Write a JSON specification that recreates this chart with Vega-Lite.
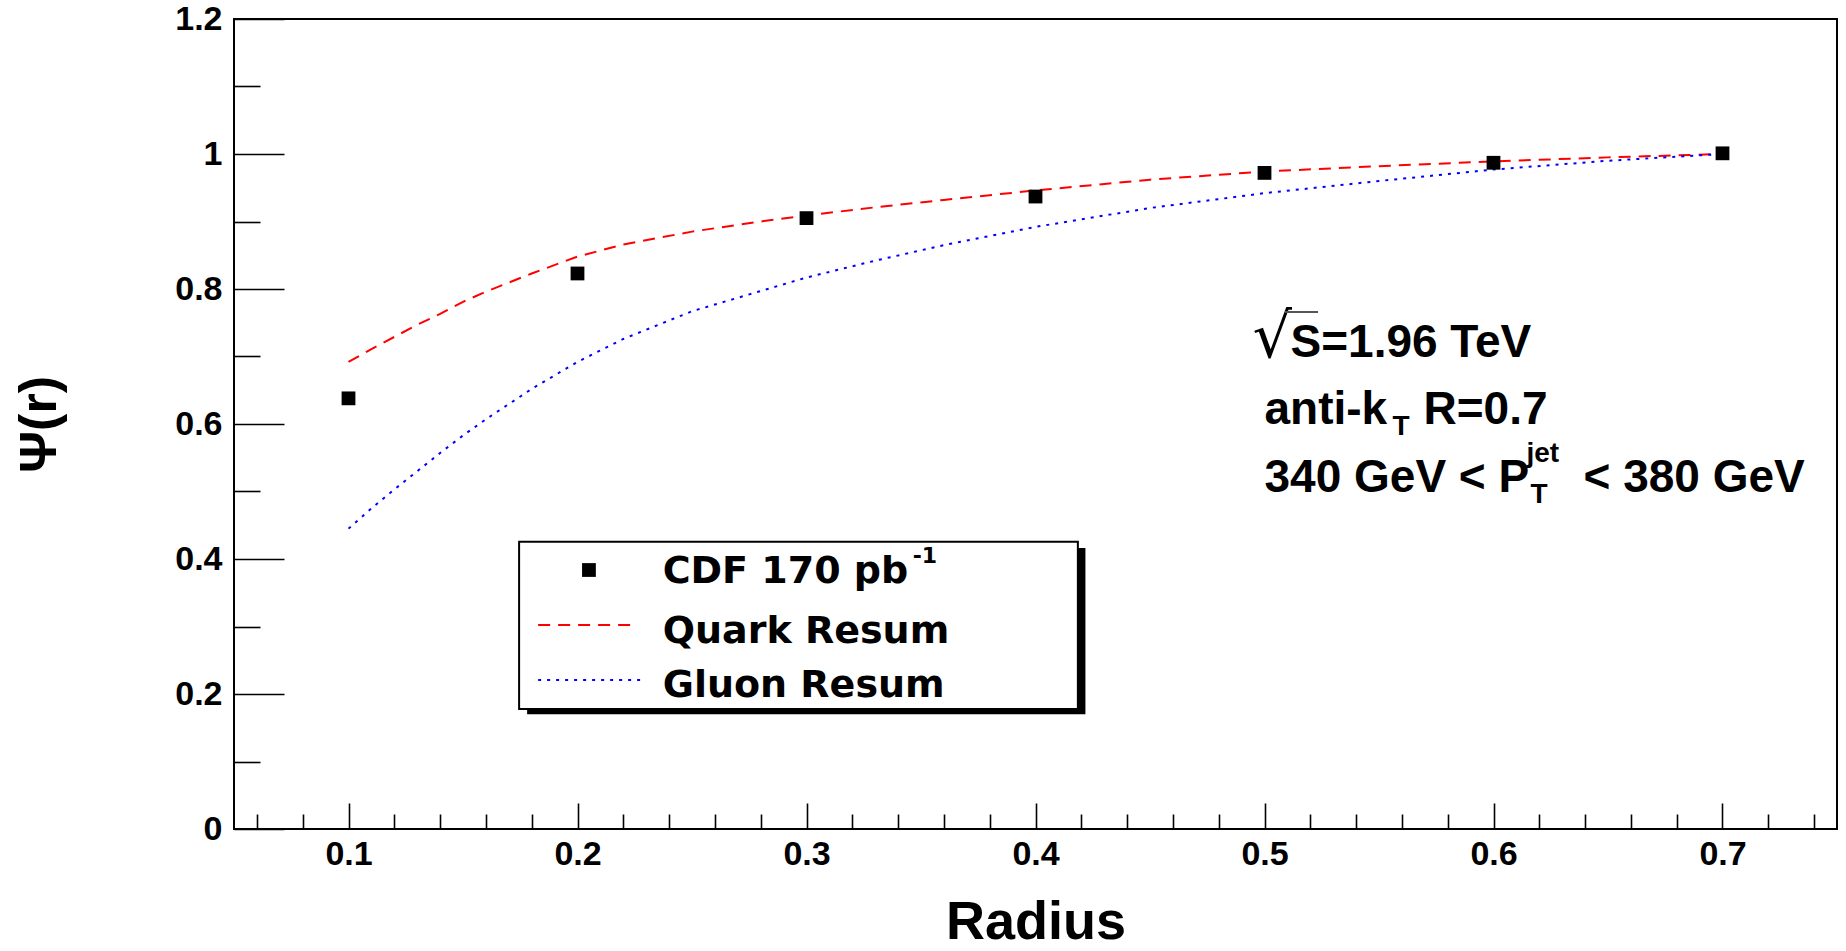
{
  "$schema": "https://vega.github.io/schema/vega-lite/v6.json",
  "width": 1603,
  "height": 810,
  "autosize": "none",
  "padding": {"left": 234, "top": 19, "right": 9, "bottom": 122},
  "background": "white",
  "config": {
    "view": {"stroke": "black", "strokeWidth": 2},
    "axis": {"grid": false, "domain": false}
  },
  "datasets": {
    "cdf": [
      {"r": 0.1, "psi": 0.638},
      {"r": 0.2, "psi": 0.823},
      {"r": 0.3, "psi": 0.905},
      {"r": 0.4, "psi": 0.937},
      {"r": 0.5, "psi": 0.972},
      {"r": 0.6, "psi": 0.987},
      {"r": 0.7, "psi": 1.001}
    ],
    "quark": [
      {"r": 0.10, "psi": 0.692}, {"r": 0.11, "psi": 0.711}, {"r": 0.12, "psi": 0.729},
      {"r": 0.13, "psi": 0.747}, {"r": 0.14, "psi": 0.763}, {"r": 0.15, "psi": 0.781},
      {"r": 0.16, "psi": 0.796}, {"r": 0.18, "psi": 0.823}, {"r": 0.20, "psi": 0.848},
      {"r": 0.22, "psi": 0.866}, {"r": 0.25, "psi": 0.885}, {"r": 0.28, "psi": 0.900},
      {"r": 0.30, "psi": 0.909}, {"r": 0.33, "psi": 0.921}, {"r": 0.36, "psi": 0.932},
      {"r": 0.40, "psi": 0.946}, {"r": 0.45, "psi": 0.962}, {"r": 0.50, "psi": 0.974},
      {"r": 0.55, "psi": 0.982}, {"r": 0.60, "psi": 0.989}, {"r": 0.65, "psi": 0.995},
      {"r": 0.70, "psi": 1.000}
    ],
    "gluon": [
      {"r": 0.10, "psi": 0.445}, {"r": 0.11, "psi": 0.475}, {"r": 0.12, "psi": 0.503},
      {"r": 0.13, "psi": 0.530}, {"r": 0.14, "psi": 0.557}, {"r": 0.15, "psi": 0.583},
      {"r": 0.16, "psi": 0.607}, {"r": 0.18, "psi": 0.652}, {"r": 0.20, "psi": 0.692},
      {"r": 0.22, "psi": 0.726}, {"r": 0.25, "psi": 0.767}, {"r": 0.28, "psi": 0.797},
      {"r": 0.30, "psi": 0.817}, {"r": 0.33, "psi": 0.842}, {"r": 0.36, "psi": 0.865},
      {"r": 0.40, "psi": 0.892}, {"r": 0.45, "psi": 0.920}, {"r": 0.50, "psi": 0.942},
      {"r": 0.55, "psi": 0.960}, {"r": 0.60, "psi": 0.977}, {"r": 0.65, "psi": 0.990},
      {"r": 0.70, "psi": 1.000}
    ],
    "one": [{"k": 1}]
  },
  "layer": [
    {
      "data": {"name": "quark"},
      "mark": {"type": "line", "color": "#ff0000", "strokeWidth": 2, "strokeDash": [12, 8]},
      "encoding": {
        "x": {
          "field": "r", "type": "quantitative",
          "scale": {"domain": [0.05, 0.75], "nice": false, "zero": false},
          "axis": {
            "values": [0.06, 0.08, 0.1, 0.12, 0.14, 0.16, 0.18, 0.2, 0.22, 0.24, 0.26, 0.28, 0.3, 0.32, 0.34, 0.36, 0.38, 0.4, 0.42, 0.44, 0.46, 0.48, 0.5, 0.52, 0.54, 0.56, 0.58, 0.6, 0.62, 0.64, 0.66, 0.68, 0.7, 0.72, 0.74],
            "tickSize": {"condition": {"test": "abs(datum.value*10 - round(datum.value*10)) < 0.000001", "value": -26}, "value": -15},
            "tickColor": "black",
            "tickWidth": 1.6,
            "labelExpr": "abs(datum.value*10 - round(datum.value*10)) < 0.000001 ? format(datum.value, '.1f') : ''",
            "labelPadding": 34,
            "labelFont": "Liberation Sans",
            "labelFontWeight": "bold",
            "labelFontSize": 34,
            "labelColor": "black",
            "labelOverlap": false,
            "labelFlush": false,
            "labelBound": false,
            "title": "Radius",
            "titleFont": "Liberation Sans",
            "titleFontWeight": "bold",
            "titleFontSize": 54,
            "titleColor": "black",
            "titlePadding": 13
          }
        },
        "y": {
          "field": "psi", "type": "quantitative",
          "scale": {"domain": [0, 1.2], "nice": false, "zero": false},
          "axis": {
            "values": [0, 0.05, 0.1, 0.15, 0.2, 0.25, 0.3, 0.35, 0.4, 0.45, 0.5, 0.55, 0.6, 0.65, 0.7, 0.75, 0.8, 0.85, 0.9, 0.95, 1, 1.05, 1.1, 1.15, 1.2],
            "tickSize": {"condition": {"test": "abs(datum.value*5 - round(datum.value*5)) < 0.000001", "value": -50}, "value": -26},
            "tickColor": "black",
            "tickWidth": 1.6,
            "labelExpr": "abs(datum.value*5 - round(datum.value*5)) < 0.000001 ? format(datum.value, '~g') : ''",
            "labelPadding": 62,
            "labelFont": "Liberation Sans",
            "labelFontWeight": "bold",
            "labelFontSize": 34,
            "labelColor": "black",
            "labelOverlap": false,
            "labelFlush": false,
            "labelBound": false,
            "title": "Ψ(r)",
            "titleFont": "Liberation Sans",
            "titleFontWeight": "bold",
            "titleFontSize": 52,
            "titleColor": "black",
            "titlePadding": 108
          }
        }
      }
    },
    {
      "data": {"name": "gluon"},
      "mark": {"type": "line", "color": "#0000ff", "strokeWidth": 2, "strokeDash": [3, 6]},
      "encoding": {
        "x": {"field": "r", "type": "quantitative"},
        "y": {"field": "psi", "type": "quantitative"}
      }
    },
    {
      "data": {"name": "cdf"},
      "mark": {"type": "square", "size": 190, "color": "black", "opacity": 1},
      "encoding": {
        "x": {"field": "r", "type": "quantitative"},
        "y": {"field": "psi", "type": "quantitative"}
      }
    },
    {
      "data": {"name": "one"},
      "mark": {"type": "rect", "color": "black"},
      "encoding": {
        "x": {"datum": 0.178, "type": "quantitative"},
        "x2": {"datum": 0.4218},
        "y": {"datum": 0.4163, "type": "quantitative"},
        "y2": {"datum": 0.1699}
      }
    },
    {
      "data": {"name": "one"},
      "mark": {"type": "rect", "fill": "white", "stroke": "black", "strokeWidth": 2},
      "encoding": {
        "x": {"datum": 0.1745, "type": "quantitative"},
        "x2": {"datum": 0.4185},
        "y": {"datum": 0.4256, "type": "quantitative"},
        "y2": {"datum": 0.1778}
      }
    },
    {
      "data": {"name": "one"},
      "mark": {"type": "square", "size": 190, "color": "black", "opacity": 1},
      "encoding": {
        "x": {"datum": 0.205, "type": "quantitative"},
        "y": {"datum": 0.3837, "type": "quantitative"}
      }
    },
    {
      "data": {"name": "one"},
      "mark": {"type": "rule", "color": "#ff0000", "strokeWidth": 2, "strokeDash": [12, 8]},
      "encoding": {
        "x": {"datum": 0.1828, "type": "quantitative"},
        "x2": {"datum": 0.2256},
        "y": {"datum": 0.3022, "type": "quantitative"}
      }
    },
    {
      "data": {"name": "one"},
      "mark": {"type": "rule", "color": "#0000ff", "strokeWidth": 2, "strokeDash": [3, 6]},
      "encoding": {
        "x": {"datum": 0.1828, "type": "quantitative"},
        "x2": {"datum": 0.2275},
        "y": {"datum": 0.2207, "type": "quantitative"}
      }
    },
    {
      "data": {"name": "one"},
      "mark": {"type": "text", "text": "CDF 170 pb", "font": "DejaVu Sans", "fontWeight": "bold", "fontSize": 38, "align": "left", "baseline": "alphabetic", "color": "black"},
      "encoding": {
        "x": {"datum": 0.2372, "type": "quantitative"},
        "y": {"datum": 0.364, "type": "quantitative"}
      }
    },
    {
      "data": {"name": "one"},
      "mark": {"type": "text", "text": "-1", "font": "DejaVu Sans", "fontWeight": "bold", "fontSize": 22, "align": "left", "baseline": "alphabetic", "dx": 250, "dy": -20, "color": "black"},
      "encoding": {
        "x": {"datum": 0.2372, "type": "quantitative"},
        "y": {"datum": 0.364, "type": "quantitative"}
      }
    },
    {
      "data": {"name": "one"},
      "mark": {"type": "text", "text": "Quark Resum", "font": "DejaVu Sans", "fontWeight": "bold", "fontSize": 38, "align": "left", "baseline": "alphabetic", "color": "black"},
      "encoding": {
        "x": {"datum": 0.2372, "type": "quantitative"},
        "y": {"datum": 0.2751, "type": "quantitative"}
      }
    },
    {
      "data": {"name": "one"},
      "mark": {"type": "text", "text": "Gluon Resum", "font": "DejaVu Sans", "fontWeight": "bold", "fontSize": 38, "align": "left", "baseline": "alphabetic", "color": "black"},
      "encoding": {
        "x": {"datum": 0.2372, "type": "quantitative"},
        "y": {"datum": 0.196, "type": "quantitative"}
      }
    },
    {
      "data": {"name": "one"},
      "mark": {"type": "text", "text": "√", "font": "DejaVu Sans", "fontSize": 62, "align": "left", "baseline": "alphabetic", "dx": -12, "dy": 0, "color": "black"},
      "encoding": {
        "x": {"datum": 0.5, "type": "quantitative"},
        "y": {"datum": 0.7, "type": "quantitative"}
      }
    },
    {
      "data": {"name": "one"},
      "mark": {"type": "rule", "color": "#555555", "strokeWidth": 2},
      "encoding": {
        "x": {"datum": 0.509, "type": "quantitative"},
        "x2": {"datum": 0.5234},
        "y": {"datum": 0.766, "type": "quantitative"}
      }
    },
    {
      "data": {"name": "one"},
      "mark": {"type": "text", "text": "S=1.96 TeV", "font": "Liberation Sans", "fontWeight": "bold", "fontSize": 46, "align": "left", "baseline": "alphabetic", "dx": 26, "color": "black"},
      "encoding": {
        "x": {"datum": 0.5, "type": "quantitative"},
        "y": {"datum": 0.7, "type": "quantitative"}
      }
    },
    {
      "data": {"name": "one"},
      "mark": {"type": "text", "text": "anti-k", "font": "Liberation Sans", "fontWeight": "bold", "fontSize": 46, "align": "left", "baseline": "alphabetic", "color": "black"},
      "encoding": {
        "x": {"datum": 0.5, "type": "quantitative"},
        "y": {"datum": 0.6, "type": "quantitative"}
      }
    },
    {
      "data": {"name": "one"},
      "mark": {"type": "text", "text": "T", "font": "Liberation Sans", "fontWeight": "bold", "fontSize": 28, "align": "left", "baseline": "alphabetic", "dx": 128, "dy": 11, "color": "black"},
      "encoding": {
        "x": {"datum": 0.5, "type": "quantitative"},
        "y": {"datum": 0.6, "type": "quantitative"}
      }
    },
    {
      "data": {"name": "one"},
      "mark": {"type": "text", "text": "R=0.7", "font": "Liberation Sans", "fontWeight": "bold", "fontSize": 46, "align": "left", "baseline": "alphabetic", "dx": 159, "color": "black"},
      "encoding": {
        "x": {"datum": 0.5, "type": "quantitative"},
        "y": {"datum": 0.6, "type": "quantitative"}
      }
    },
    {
      "data": {"name": "one"},
      "mark": {"type": "text", "text": "340 GeV < P", "font": "Liberation Sans", "fontWeight": "bold", "fontSize": 46, "align": "left", "baseline": "alphabetic", "color": "black"},
      "encoding": {
        "x": {"datum": 0.5, "type": "quantitative"},
        "y": {"datum": 0.5, "type": "quantitative"}
      }
    },
    {
      "data": {"name": "one"},
      "mark": {"type": "text", "text": "jet", "font": "Liberation Sans", "fontWeight": "bold", "fontSize": 28, "align": "left", "baseline": "alphabetic", "dx": 262, "dy": -30, "color": "black"},
      "encoding": {
        "x": {"datum": 0.5, "type": "quantitative"},
        "y": {"datum": 0.5, "type": "quantitative"}
      }
    },
    {
      "data": {"name": "one"},
      "mark": {"type": "text", "text": "T", "font": "Liberation Sans", "fontWeight": "bold", "fontSize": 28, "align": "left", "baseline": "alphabetic", "dx": 266, "dy": 11, "color": "black"},
      "encoding": {
        "x": {"datum": 0.5, "type": "quantitative"},
        "y": {"datum": 0.5, "type": "quantitative"}
      }
    },
    {
      "data": {"name": "one"},
      "mark": {"type": "text", "text": "< 380 GeV", "font": "Liberation Sans", "fontWeight": "bold", "fontSize": 46, "align": "left", "baseline": "alphabetic", "dx": 319, "color": "black"},
      "encoding": {
        "x": {"datum": 0.5, "type": "quantitative"},
        "y": {"datum": 0.5, "type": "quantitative"}
      }
    }
  ]
}
